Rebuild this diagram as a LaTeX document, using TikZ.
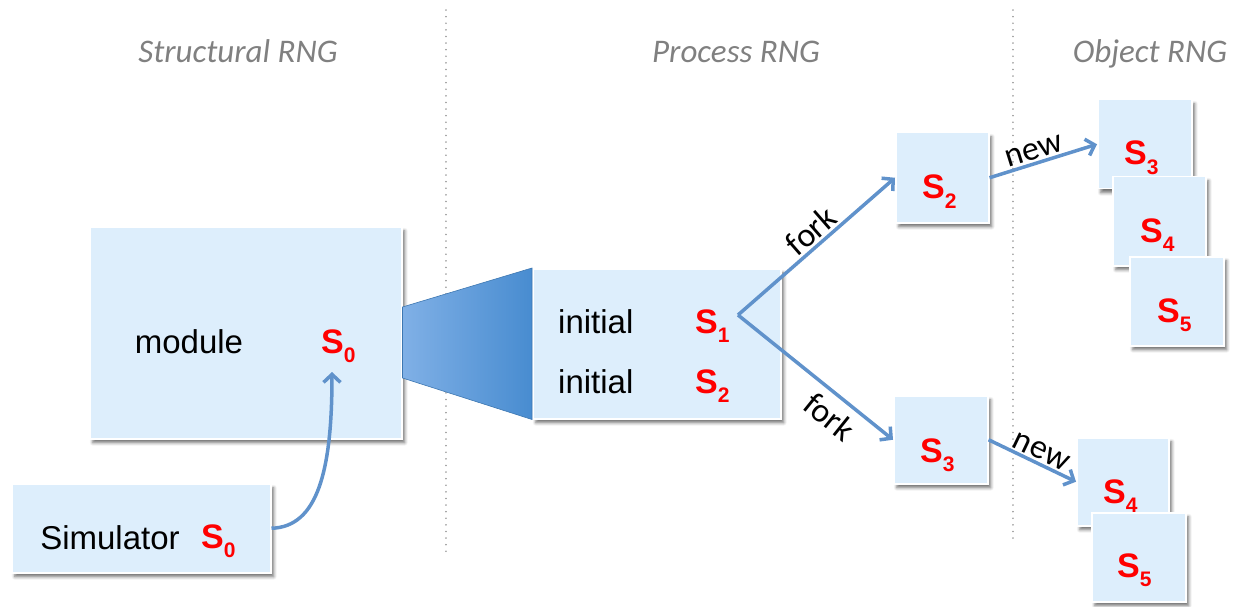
\documentclass[tikz,border=0pt]{standalone}
\usepackage{fontspec}
\setmainfont{Liberation Sans}
\newfontfamily\calib{Carlito}
\usetikzlibrary{arrows.meta,shadows.blur,calc}

\definecolor{boxfill}{RGB}{221,238,252}
\definecolor{linkblue}{RGB}{96,146,203}
\definecolor{fanL}{RGB}{128,176,230}
\definecolor{fanR}{RGB}{72,140,208}
\definecolor{rngred}{RGB}{255,0,0}
\definecolor{headgray}{RGB}{128,128,128}

% red seed label S_n
\newcommand\seedtag[1]{\textcolor{rngred}{\bfseries S\raisebox{-0.27em}{\fontsize{21pt}{21pt}\selectfont #1}}}

\tikzset{
  box/.style={fill=boxfill, draw=white, line width=1.5pt, inner sep=0pt,
    anchor=north west,
    blur shadow={shadow xshift=3pt, shadow yshift=-4pt, shadow blur radius=3pt, shadow opacity=55}},
  seed/.style={font=\fontsize{34pt}{34pt}\selectfont, inner sep=0pt, anchor=base west},
  word/.style={font=\fontsize{33pt}{33pt}\selectfont, inner sep=0pt},
  head/.style={font=\calib\itshape\fontsize{33pt}{33pt}\selectfont, text=headgray, inner sep=0pt, anchor=base},
  link/.style={draw=linkblue, line width=3.5pt, -{Straight Barb[length=8pt,width=17pt]}},
  edgelab/.style={font=\calib\fontsize{34pt}{34pt}\selectfont, sloped, inner sep=2pt},
  divider/.style={draw=gray!75, line width=1.6pt, dash pattern=on 0.1pt off 6.5pt, line cap=round},
}

\begin{document}
\begin{tikzpicture}[x=1pt, y=-1pt]
\useasboundingbox (0,0) rectangle (1235,607);

% section dividers and headings
\coordinate (d1t) at (446,10);  \coordinate (d1b) at (446,553);
\coordinate (d2t) at (1013,10); \coordinate (d2b) at (1013,540);
\draw[divider] (d1t) -- (d1b);
\draw[divider] (d2t) -- (d2b);
\node[head] (hs) at (238,63) {Structural RNG};
\node[head] (hp) at (736,63) {Process RNG};
\node[head] (ho) at (1150,63) {Object RNG};

% structural part
\node[box, minimum width=312pt, minimum height=212pt] (module) at (89,226) {};
\node[box, minimum width=259pt, minimum height=89pt] (sim) at (11,483) {};
\node[word, anchor=base] (modtxt) at (189,353) {module};
\node[seed] (modseed) at (321,353) {\seedtag{0}};
\node[word, anchor=base] (simtxt) at (110,549) {Simulator};
\node[seed] (simseed) at (201,548) {\seedtag{0}};
\coordinate (modin) at (332,372);
\draw[link] (sim.east) .. controls (318,527) and (332,470) .. (modin);

% process part
\node[box, minimum width=248pt, minimum height=150pt] (proc) at (532,268) {};
\shade[left color=fanL, right color=fanR, draw=fanR!85!black, line width=0.6pt]
  (module.north east |- 0,307) -- (proc.north west) -- (proc.south west)
  -- (module.north east |- 0,378) -- cycle;
\node[word, anchor=base west] (ini1) at (558,333) {initial};
\node[word, anchor=base west] (ini2) at (558,393) {initial};
\node[seed] (pseed1) at (695,333) {\seedtag{1}};
\node[seed] (pseed2) at (695,393) {\seedtag{2}};

\node[box, minimum width=93pt, minimum height=90pt] (fa) at (895,132) {};
\node[box, minimum width=94pt, minimum height=88pt] (fb) at (893,395) {};
\node[seed] (fas) at (922,199) {\seedtag{2}};
\node[seed] (fbs) at (920,462) {\seedtag{3}};

\coordinate (fork) at (738,315);
\draw[link] (fork) -- node[edgelab, above, pos=0.53] {fork} (fa.west);
\draw[link] (fork) -- node[edgelab, below=6pt, pos=0.68] {fork} (fb.west);

% object part
\node[box, minimum width=94pt, minimum height=89pt] (oa3) at (1097,99) {};
\node[seed] (oa3s) at (1124,165) {\seedtag{3}};
\node[box, minimum width=93pt, minimum height=89pt] (oa4) at (1112,176) {};
\node[seed] (oa4s) at (1140,242) {\seedtag{4}};
\node[box, minimum width=94pt, minimum height=89pt] (oa5) at (1129,256) {};
\node[seed] (oa5s) at (1157,322) {\seedtag{5}};

\node[box, minimum width=92pt, minimum height=88pt] (ob4) at (1076,437) {};
\node[seed] (ob4s) at (1103,503) {\seedtag{4}};
\node[box, minimum width=94pt, minimum height=89pt] (ob5) at (1091,512) {};
\node[seed] (ob5s) at (1117,577) {\seedtag{5}};

\draw[link] (fa.east) -- node[edgelab, above, pos=0.45] {new} (oa3.west);
\draw[link] (fb.east) -- node[edgelab, above, pos=0.54] {new} (ob4.west);
\end{tikzpicture}
\end{document}
